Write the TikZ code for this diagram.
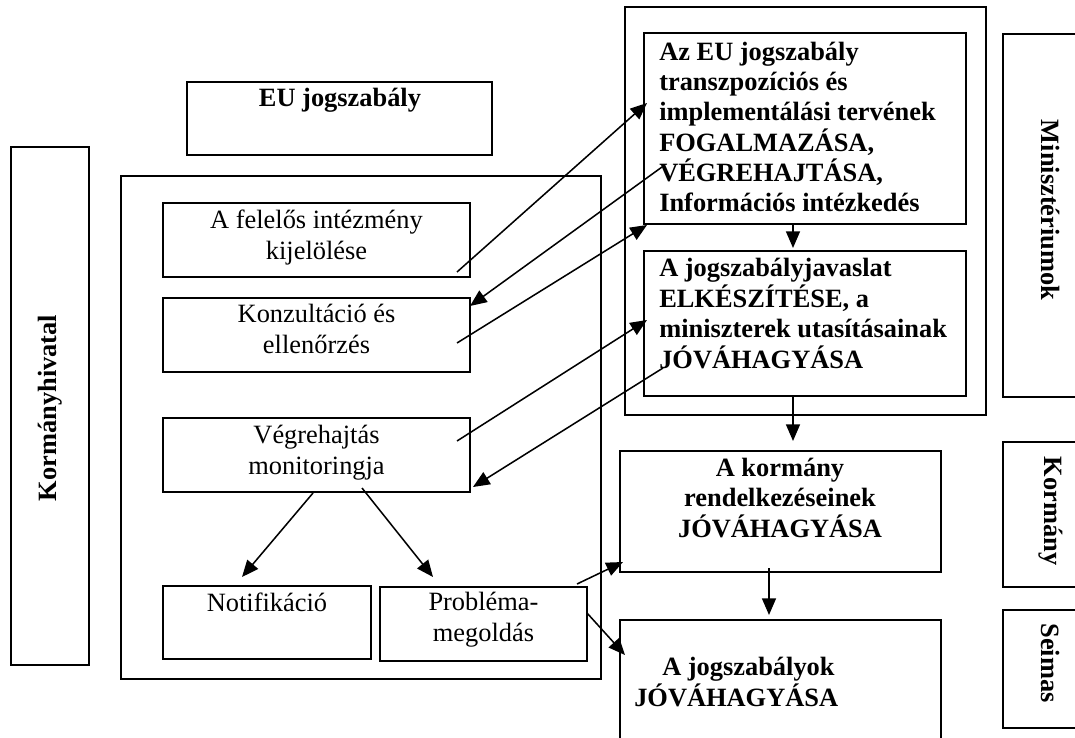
\documentclass[tikz,border=0pt]{standalone}
\usepackage{fontspec}
\setmainfont{Liberation Serif}
\usetikzlibrary{arrows.meta,fit}

\begin{document}
\begin{tikzpicture}[x=0.75pt,y=-0.75pt,
  box/.style={draw, line width=1.6pt, inner sep=0pt},
  % multi-line texts are placed by the baseline of their last line
  txt/.style={font=\fontsize{19.8}{22.8}\selectfont, inner sep=0pt, align=center, anchor=base},
  btxt/.style={font=\fontsize{19.8}{22.8}\selectfont\bfseries, inner sep=0pt, align=center, anchor=base},
  ltxt/.style={font=\fontsize{19.8}{22.8}\selectfont\bfseries, inner sep=0pt, align=left, anchor=base west},
  vlabel/.style={font=\fontsize{19.8}{22.8}\selectfont\bfseries, inner sep=0pt, anchor=center},
  conn/.style={line width=1.15pt, -{Triangle[length=12.5pt,width=10.5pt]}},
]
\useasboundingbox (0,0) rectangle (1075,738);
\clip (0,0) rectangle (1075,738);

% ---- boxes ----
\node[box, fit={(187,82) (492,155)}]   (eu)    {};
\node[box, fit={(11,147) (89,665)}]    (hiv)   {};
\node[box, fit={(121,176) (601,679)}]  (big)   {};
\node[box, fit={(163,203) (470,277)}]  (fel)   {};
\node[box, fit={(163,298) (470,372)}]  (konz)  {};
\node[box, fit={(163,418) (470,492)}]  (vegr)  {};
\node[box, fit={(163,586) (371,659)}]  (notif) {};
\node[box, fit={(380,587) (587,661)}]  (prob)  {};
\node[box, fit={(625,7) (986,415)}]    (minout){};
\node[box, fit={(644,33) (966,224)}]   (terv)  {};
\node[box, fit={(644,251) (966,396)}]  (javas) {};
\node[box, fit={(620,451) (941,572)}]  (korm)  {};
\node[box, fit={(620,620) (941,760)}]  (jogsz) {};
\node[box, fit={(1003,34) (1090,397)}] (minl)  {};
\node[box, fit={(1003,442) (1090,587)}](korml) {};
\node[box, fit={(1003,610) (1090,728)}](seiml) {};

% ---- texts ----
\node[btxt] (eu-t) at (340,107) {EU jogszabály};
\node[txt] (fel-t) at (316.5,259) {A felelős intézmény\\kijelölése};
\node[txt] (konz-t) at (316.5,353) {Konzultáció és\\ellenőrzés};
\node[txt] (vegr-t) at (316.5,474) {Végrehajtás\\monitoringja};
\node[txt] (notif-t) at (267,611) {Notifikáció};
\node[txt] (prob-t) at (483.5,641) {Probléma-\\megoldás};
\node[ltxt] (terv-t) at (659,212) {Az EU jogszabály\\transzpozíciós és\\implementálási tervének\\FOGALMAZÁSA,\\VÉGREHAJTÁSA,\\Információs intézkedés};
\node[ltxt] (javas-t) at (659,368) {A jogszabályjavaslat\\ELKÉSZÍTÉSE, a\\miniszterek utasításainak\\JÓVÁHAGYÁSA};
\node[btxt] (korm-t) at (780,537) {A kormány\\rendelkezéseinek\\JÓVÁHAGYÁSA};
\node[ltxt] (jogsz-t) at (634,706) {\hspace*{21pt}A jogszabályok\\JÓVÁHAGYÁSA};

\node[vlabel, rotate=90]  (hiv-t)  at (50,408)   {Kormányhivatal};
\node[vlabel, rotate=-90] (minl-t) at (1051,210) {Minisztériumok};
\node[vlabel, rotate=-90] (korml-t) at (1051,511) {Kormány};
\node[vlabel, rotate=-90] (seiml-t) at (1051,663) {Seimas};

% ---- connector ends ----
\coordinate (fel-out)   at (457,272);
\coordinate (terv-in)   at (647,103);
\coordinate (terv-out)  at (662,167);
\coordinate (konz-in)   at (470,306);
\coordinate (konz-out)  at (457,343);
\coordinate (terv-in2)  at (647,225);
\coordinate (vegr-out)  at (457,441);
\coordinate (javas-in)  at (647,320);
\coordinate (javas-out) at (663,368);
\coordinate (vegr-in)   at (473,487);
\coordinate (vegr-l)    at (313,493);
\coordinate (vegr-r)    at (362,488);
\coordinate (notif-in)  at (242,577);
\coordinate (prob-in)   at (433,577);
\coordinate (prob-o1)   at (577,584);
\coordinate (korm-in)   at (623,562);
\coordinate (prob-o2)   at (587,613);
\coordinate (jogsz-in)  at (625,655);
\coordinate (terv-b)    at (793,224);
\coordinate (javas-tp)  at (793,248);
\coordinate (javas-b)   at (793,396);
\coordinate (korm-tp)   at (793,441);
\coordinate (korm-b)    at (769,568);
\coordinate (jogsz-tp)  at (769,615);

% ---- connectors ----
\draw[conn] (fel-out)   -- (terv-in);
\draw[conn] (terv-out)  -- (konz-in);
\draw[conn] (konz-out)  -- (terv-in2);
\draw[conn] (vegr-out)  -- (javas-in);
\draw[conn] (javas-out) -- (vegr-in);
\draw[conn] (vegr-l)    -- (notif-in);
\draw[conn] (vegr-r)    -- (prob-in);
\draw[conn] (prob-o1)   -- (korm-in);
\draw[conn] (prob-o2)   -- (jogsz-in);
\draw[conn] (terv-b)    -- (javas-tp);
\draw[conn] (javas-b)   -- (korm-tp);
\draw[conn] (korm-b)    -- (jogsz-tp);
\end{tikzpicture}
\end{document}
